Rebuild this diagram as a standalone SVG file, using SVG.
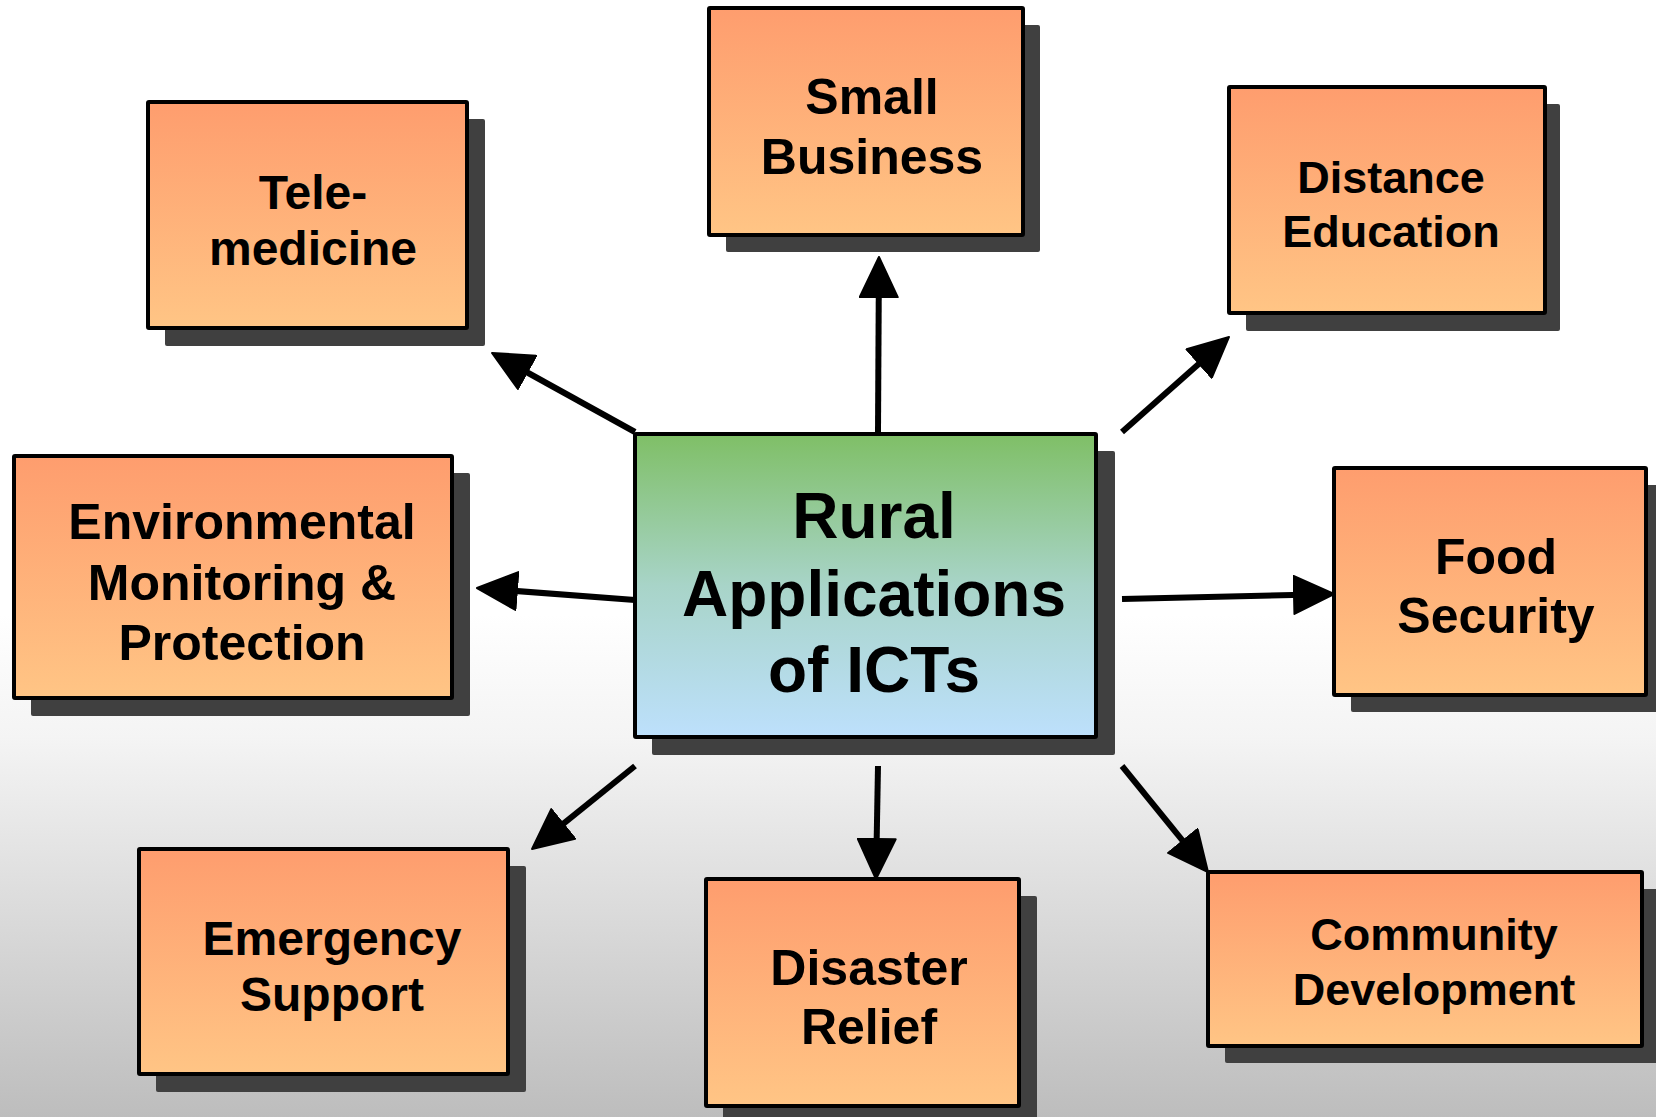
<svg xmlns="http://www.w3.org/2000/svg" width="1656" height="1117" viewBox="0 0 1656 1117">
<defs>
<linearGradient id="bg" x1="0" y1="0" x2="0" y2="1">
<stop offset="0" stop-color="#ffffff"/>
<stop offset="0.55" stop-color="#ffffff"/>
<stop offset="0.66" stop-color="#f4f4f4"/>
<stop offset="1" stop-color="#bdbdbd"/>
</linearGradient>
<linearGradient id="orange" x1="0" y1="0" x2="0" y2="1">
<stop offset="0" stop-color="#fe9d6e"/>
<stop offset="1" stop-color="#ffc585"/>
</linearGradient>
<linearGradient id="center" x1="0" y1="0" x2="0" y2="1">
<stop offset="0" stop-color="#7fbf66"/>
<stop offset="0.5" stop-color="#a8d4c8"/>
<stop offset="1" stop-color="#bde0fc"/>
</linearGradient>
<marker id="arr" markerUnits="userSpaceOnUse" markerWidth="42" markerHeight="40" refX="10" refY="19" orient="auto" viewBox="-1 -1 42 40">
<path d="M0,0 L40,19 L0,38 Z" fill="#000" stroke="#000" stroke-width="2" stroke-linejoin="round"/>
</marker>
</defs>
<style>
.sh{fill:#404040}
.bx{fill:url(#orange);stroke:#000;stroke-width:4}
.cx{fill:url(#center);stroke:#000;stroke-width:4}
.t{font-family:"Liberation Sans",Arial,sans-serif;font-weight:bold;fill:#000;text-anchor:middle}
.c line{stroke:#000;stroke-width:6;marker-end:url(#arr)}
</style>
<rect x="0" y="0" width="1656" height="1117" fill="url(#bg)"/>

<g class="c" id="connectors">
<line x1="635" y1="432" x2="518.3" y2="367.5"/>
<line x1="878" y1="432" x2="878.8" y2="287"/>
<line x1="1122" y1="432" x2="1206.6" y2="356.9"/>
<line x1="635" y1="600" x2="506.9" y2="590.3"/>
<line x1="1122" y1="599" x2="1304" y2="594.7"/>
<line x1="635" y1="766" x2="555.4" y2="830.2"/>
<line x1="878" y1="766" x2="876.5" y2="849"/>
<line x1="1122" y1="766" x2="1189.1" y2="848.7"/>
</g>

<g id="center-node">
<rect class="sh" x="652" y="451" width="463" height="304" rx="2"/>
<rect class="cx" x="635" y="434" width="461" height="303" rx="1"/>
<text class="t" x="874" y="538" font-size="64">Rural</text>
<text class="t" x="874" y="616" font-size="64">Applications</text>
<text class="t" x="874" y="692" font-size="64">of ICTs</text>
</g>

<g id="telemedicine">
<rect class="sh" x="165" y="119" width="320" height="227" rx="2"/>
<rect class="bx" x="148" y="102" width="319" height="226" rx="1"/>
<text class="t" x="313" y="209" font-size="48">Tele-</text>
<text class="t" x="313" y="265" font-size="48">medicine</text>
</g>

<g id="small-business">
<rect class="sh" x="726" y="25" width="314" height="227" rx="2"/>
<rect class="bx" x="709" y="8" width="314" height="227" rx="1"/>
<text class="t" x="872" y="114" font-size="50">Small</text>
<text class="t" x="872" y="174" font-size="50">Business</text>
</g>

<g id="distance-education">
<rect class="sh" x="1246" y="104" width="314" height="227" rx="2"/>
<rect class="bx" x="1229" y="87" width="316" height="226" rx="1"/>
<text class="t" x="1391" y="193" font-size="45">Distance</text>
<text class="t" x="1391" y="247" font-size="45">Education</text>
</g>

<g id="environmental">
<rect class="sh" x="31" y="473" width="439" height="243" rx="2"/>
<rect class="bx" x="14" y="456" width="438" height="242" rx="1"/>
<text class="t" x="242" y="539" font-size="50">Environmental</text>
<text class="t" x="242" y="600" font-size="50">Monitoring &amp;</text>
<text class="t" x="242" y="660" font-size="50">Protection</text>
</g>

<g id="food-security">
<rect class="sh" x="1351" y="485" width="320" height="227" rx="2"/>
<rect class="bx" x="1334" y="468" width="312" height="227" rx="1"/>
<text class="t" x="1496" y="574" font-size="50">Food</text>
<text class="t" x="1496" y="633" font-size="50">Security</text>
</g>

<g id="emergency-support">
<rect class="sh" x="156" y="866" width="370" height="226" rx="2"/>
<rect class="bx" x="139" y="849" width="369" height="225" rx="1"/>
<text class="t" x="332" y="955" font-size="48">Emergency</text>
<text class="t" x="332" y="1011" font-size="48">Support</text>
</g>

<g id="disaster-relief">
<rect class="sh" x="723" y="896" width="314" height="240" rx="2"/>
<rect class="bx" x="706" y="879" width="313" height="227" rx="1"/>
<text class="t" x="869" y="985" font-size="50">Disaster</text>
<text class="t" x="869" y="1044" font-size="50">Relief</text>
</g>

<g id="community-development">
<rect class="sh" x="1225" y="889" width="440" height="174" rx="2"/>
<rect class="bx" x="1208" y="872" width="434" height="174" rx="1"/>
<text class="t" x="1434" y="950" font-size="45">Community</text>
<text class="t" x="1434" y="1005" font-size="45">Development</text>
</g>
</svg>
